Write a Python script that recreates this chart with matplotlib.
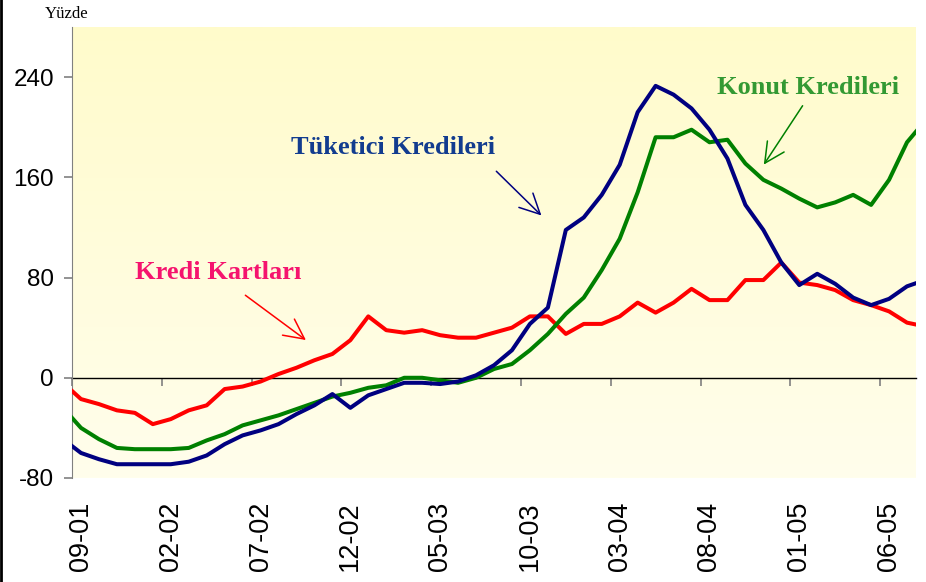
import numpy as np
import matplotlib
matplotlib.use('Agg')
import matplotlib.pyplot as plt
from matplotlib.colors import LinearSegmentedColormap
from matplotlib.lines import Line2D

plt.rcParams['axes.unicode_minus'] = False

# monthly growth rates (%), 08-01 .. 08-05 (first and last month fall just outside the plot area)
months = np.arange(-1, 48)
kredi_kartlari = [-4, -17, -21, -26, -28, -37, -33, -26, -22, -9, -7, -3, 3, 8, 14, 19, 30, 49,
                  38, 36, 38, 34, 32, 32, 36, 40, 49, 49, 35, 43, 43, 49, 60, 52, 60, 71, 62,
                  62, 78, 78, 92, 76, 74, 70, 62, 58, 53, 44, 41]
tuketici = [-49, -60, -65, -69, -69, -69, -69, -67, -62, -53, -46, -42, -37, -29, -22, -13, -24,
            -14, -9, -4, -4, -5, -3, 2, 10, 22, 43, 56, 118, 128, 146, 170, 212, 233, 226, 215,
            198, 175, 138, 118, 92, 74, 83, 75, 64, 58, 63, 73, 78]
konut = [-24, -40, -49, -56, -57, -57, -57, -56, -50, -45, -38, -34, -30, -25, -20, -15, -12, -8,
         -6, 0, 0, -2, -4, 0, 7, 11, 22, 35, 51, 64, 86, 111, 148, 192, 192, 198, 188, 190, 171,
         158, 151, 143, 136, 140, 146, 138, 158, 188, 205]

label_pos = [0, 5, 10, 15, 20, 25, 30, 35, 40, 45]
tick_labels = ['09-01', '02-02', '07-02', '12-02', '05-03', '10-03', '03-04', '08-04', '01-05', '06-05']
y_ticks = [-80, 0, 80, 160, 240]

fig = plt.figure(figsize=(9.26, 5.82), dpi=100)
ax = fig.add_axes([72/926, 1-478/582, (916-72)/926, (478-27)/582])

# pale yellow gradient background
grad = LinearSegmentedColormap.from_list('bg', ['#FFFEEC', '#FFFBCB'])
ax.imshow(np.linspace(0, 1, 256).reshape(-1, 1), origin='lower', cmap=grad, aspect='auto',
          extent=[-0.5, 46.5, -80, 280], zorder=0)

ax.plot(months, kredi_kartlari, color='#FF0000', lw=2.9, zorder=3)
ax.plot(months, konut, color='#008000', lw=2.9, zorder=3)
ax.plot(months, tuketici, color='#000080', lw=2.9, zorder=3)

ax.set_xlim(-0.5, 46.5)
ax.set_ylim(-80, 280)

for s in ['top', 'right']:
    ax.spines[s].set_visible(False)
ax.spines['left'].set_color('#808080')
ax.spines['bottom'].set_position(('data', 0))
ax.spines['bottom'].set_color('black')
ax.spines['bottom'].set_linewidth(1.0)
ax.spines['bottom'].set_zorder(2)

ax.set_xticks(np.array(label_pos) - 0.5)
ax.tick_params(axis='x', direction='out', length=6, width=1.2, color='#808080', labelbottom=False)

ax.set_yticks(y_ticks)
ax.tick_params(axis='y', direction='out', length=6, width=1.2, color='#808080', pad=7)
for t in ax.get_yticklabels():
    t.set_fontfamily(['Liberation Sans', 'DejaVu Sans'])
    t.set_fontsize(17.5)

sec = ax.secondary_xaxis(0.0)
sec.set_xticks(label_pos)
sec.set_xticklabels(tick_labels, rotation=90, fontsize=19.5, family='Liberation Sans', va='top')
sec.tick_params(length=0, pad=17)
sec.spines['bottom'].set_visible(False)

serif = ['Liberation Serif', 'DejaVu Serif']
fig.text(67/926, 1-14/582, 'Yüzde', fontsize=12, family=serif, ha='center', va='center')

ax.text(7.64, 84, 'Kredi Kartları', color='#F5146E', fontsize=19, fontweight='bold',
        family=serif, ha='center', va='center', zorder=4)
ax.annotate('', xy=(12.65, 28.8), xytext=(9.03, 67.2),
            arrowprops=dict(arrowstyle='->', color='#FF0000', lw=1.1, mutation_scale=36))

ax.text(17.4, 184, 'Tüketici Kredileri', color='#123C8F', fontsize=19, fontweight='bold',
        family=serif, ha='center', va='center', zorder=4)
ax.annotate('', xy=(25.75, 128), xytext=(23.02, 166.4),
            arrowprops=dict(arrowstyle='->', color='#000080', lw=1.1, mutation_scale=36))

ax.text(40.5, 232, 'Konut Kredileri', color='#339933', fontsize=19, fontweight='bold',
        family=serif, ha='center', va='center', zorder=4)
ax.annotate('', xy=(37.94, 168.3), xytext=(40.27, 219),
            arrowprops=dict(arrowstyle='->', color='#008000', lw=1.1, mutation_scale=36))

# left border of the original slide
fig.add_artist(Line2D([0.0015, 0.0015], [0, 1], color='black', lw=2))

fig.savefig('out.png', dpi=100)
